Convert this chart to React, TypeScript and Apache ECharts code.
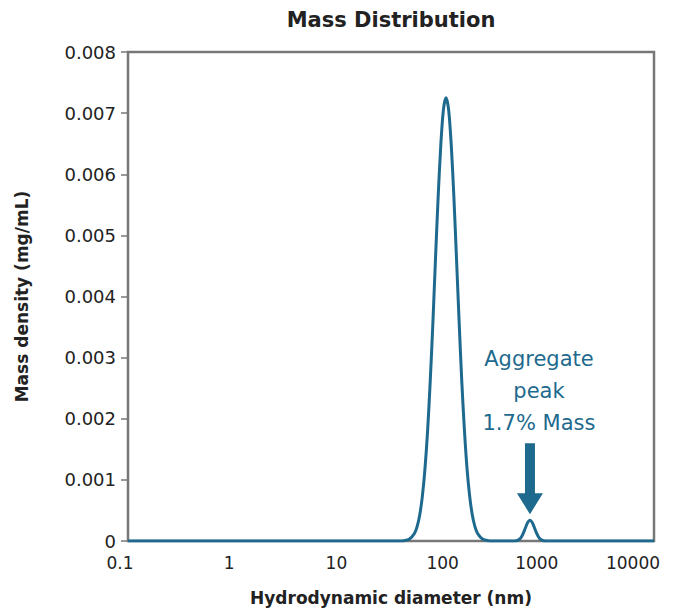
import React, { useEffect, useRef } from "react";
import * as echarts from "echarts";

const titleText = "Mass Distribution";
const xAxisName = "Hydrodynamic diameter (nm)";
const yAxisName = "Mass density (mg/mL)";
const annotationText = "Aggregate\npeak\n1.7% Mass";

// Hydrodynamic diameter (nm)
const diameters = [
  0.1, 37.4, 42.0, 47.1, 52.8, 56.0, 59.3, 62.8, 66.5, 70.5, 74.6, 79.1, 83.7, 88.7, 94.0, 99.5,
  105.4, 111.7, 118.3, 125.3, 132.7, 140.6, 148.9, 157.8, 167.1, 177.0, 187.5, 198.6, 210.4,
  236.0, 264.9, 297.2, 458, 491, 526, 551, 577, 604, 632, 662, 693, 726, 760, 796, 834, 893, 957,
  10000,
];
// Mass density (mg/mL)
const densities = [
  0, 0, 0.000005, 0.000028, 0.000122, 0.000235, 0.000426, 0.00073, 0.00118, 0.00181, 0.00261,
  0.00357, 0.00461, 0.00562, 0.00647, 0.00705, 0.00725, 0.00705, 0.00647, 0.00562, 0.00461,
  0.00357, 0.00261, 0.00181, 0.00118, 0.00073, 0.000426, 0.000235, 0.000122, 0.000028,
  0.000005, 0, 0, 0.000005, 0.000029, 0.00007, 0.00014, 0.000229, 0.000308, 0.00034,
  0.000308, 0.000229, 0.00014, 0.00007, 0.000029, 0.000005, 0, 0,
];
const aggregatePeak = [662, 0.00034];

// x tick labels and how far left of their tick each one sits in the reference
const xTickLabels = ["0.1", "1", "10", "100", "1000", "10000"];
const xLabelShift = [8, 4, 2, 1, 12, 21];

const lineColor = "#1e6a8e";
const frameColor = "#777777";
const font = "DejaVu Sans";

export default function App() {
  const ref = useRef<HTMLDivElement>(null);
  useEffect(() => {
    if (!ref.current) return;
    document.body.style.margin = "0";
    const chart = echarts.init(ref.current, null, { renderer: "svg" });
    const data = diameters.map((d, i) => [d, densities[i]]);
    const rich: Record<string, any> = {};
    xTickLabels.forEach((t, i) => {
      rich["l" + i] = {
        fontFamily: font,
        fontSize: 17,
        color: "#222",
        padding: [0, xLabelShift[i] * 2, 0, 0],
      };
    });
    chart.setOption({
      animation: false,
      backgroundColor: "#ffffff",
      grid: {
        left: 128,
        right: 22,
        top: 52,
        bottom: 68,
        outerBoundsMode: "none",
        containLabel: false,
        show: true,
        borderColor: frameColor,
        borderWidth: 2.5,
        backgroundColor: "transparent",
      },
      xAxis: {
        type: "log",
        logBase: 10,
        min: 0.1,
        max: 10000,
        name: xAxisName,
        nameLocation: "middle",
        nameGap: 48,
        nameTextStyle: { fontFamily: font, fontWeight: "bold", fontSize: 17, color: "#222" },
        axisLine: { show: false },
        axisTick: { show: false },
        splitLine: { show: false },
        minorTick: { show: false },
        axisLabel: {
          fontFamily: font,
          fontSize: 17,
          color: "#222",
          margin: 13,
          formatter: (v: number) => {
            const s = String(v);
            const i = xTickLabels.indexOf(s);
            return i >= 0 ? "{l" + i + "|" + s + "}" : s;
          },
          rich,
        },
      },
      yAxis: {
        type: "value",
        min: 0,
        max: 0.008,
        interval: 0.001,
        name: yAxisName,
        nameLocation: "middle",
        nameGap: 98,
        nameTextStyle: { fontFamily: font, fontWeight: "bold", fontSize: 17, color: "#222" },
        axisLine: { show: false },
        axisTick: { show: true, length: 7, lineStyle: { color: frameColor, width: 1.5 } },
        splitLine: { show: false },
        axisLabel: {
          fontFamily: font,
          fontSize: 18,
          color: "#222",
          margin: 12,
          formatter: (v: number) => (v === 0 ? "0" : v.toFixed(3)),
        },
      },
      series: [
        {
          type: "line",
          data,
          smooth: 0.3,
          showSymbol: false,
          lineStyle: { color: lineColor, width: 3 },
          z: 5,
        },
      ],
    });
    const p = chart.convertToPixel({ seriesIndex: 0 }, aggregatePeak) as number[];
    const px = p[0];
    const tip = p[1] - 6;
    chart.setOption({
      graphic: [
        {
          type: "text",
          x: 391,
          y: 9,
          style: {
            text: titleText,
            fontFamily: font,
            fontWeight: "bold",
            fontSize: 21,
            fill: "#222",
            textAlign: "center",
            textVerticalAlign: "top",
          },
        },
        {
          type: "text",
          x: px + 9,
          y: tip - 171,
          style: {
            text: annotationText,
            fontFamily: font,
            fontSize: 21,
            lineHeight: 32,
            fill: lineColor,
            textAlign: "center",
            textVerticalAlign: "top",
          },
        },
        {
          type: "polygon",
          shape: {
            points: [
              [px - 5, tip - 71],
              [px + 5, tip - 71],
              [px + 5, tip - 21],
              [px + 13, tip - 21],
              [px, tip],
              [px - 13, tip - 21],
              [px - 5, tip - 21],
            ],
          },
          style: { fill: lineColor },
        },
      ],
    });
    return () => chart.dispose();
  }, []);
  return <div ref={ref} style={{ width: 676, height: 609 }} />;
}
